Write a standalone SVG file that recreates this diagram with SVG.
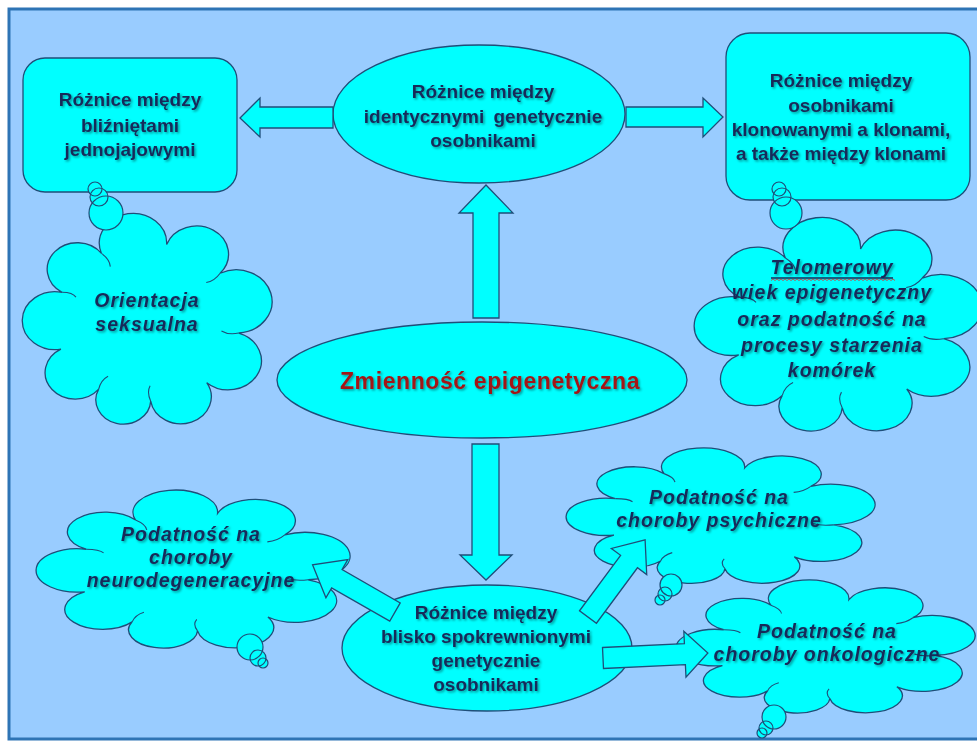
<svg xmlns="http://www.w3.org/2000/svg" xmlns:xlink="http://www.w3.org/1999/xlink" width="977" height="743" viewBox="0 0 977 743">
<style>
.sh{fill:#00FFFF;stroke:#1F4E79;stroke-width:1.3}
.cl{fill:#00FFFF;stroke:#1F4E79;stroke-width:1.3;vector-effect:non-scaling-stroke}
.cu{fill:none;stroke:#1F4E79;stroke-width:1.1;vector-effect:non-scaling-stroke}
.bo{stroke:#1F4E79;stroke-width:1.2;fill:none}
.bf{fill:#00FFFF}
.t{font-family:"Liberation Sans",Arial,sans-serif;font-weight:bold;font-size:19px;fill:#172B5A;text-anchor:middle;filter:url(#ts)}
.it{font-style:italic;font-size:19.5px;letter-spacing:1px}
.red{fill:#A31919;font-size:23px;letter-spacing:0.6px}
.ar{fill:#00FFFF;stroke:#1F4E79;stroke-width:1.3;stroke-linejoin:miter}
</style>
<defs>
<filter id="ts" x="-10%" y="-30%" width="120%" height="160%">
<feDropShadow dx="1.5" dy="1.5" stdDeviation="0.8" flood-color="#000" flood-opacity="0.4"/>
</filter>
<g id="cloud">
<path class="cl" d="M15.23,62.31 A13.16,13.16 0 1 1 15.69,36.51 A12.1,12.1 0 1 1 31.5,18.82 A13.52,13.52 0 1 1 57.69,14.79 A12.81,12.81 0 1 1 79.16,27.83 A14.38,14.38 0 1 1 86.64,55.01 A13.25,13.25 0 1 1 73.78,77.58 A12.24,12.24 0 1 1 51.29,85.98 A11.02,11.02 0 1 1 30.39,80.53 A12.09,12.09 0 1 1 15.23,62.31 Z"/>
<path class="cu" d="M15.69,36.51 Q19.96,36.57 21.27,38.7 M31.5,18.82 Q34.83,21.49 35.07,24.84 M79.16,27.83 Q76.89,31.44 73.59,32.07 M86.64,55.01 Q82.48,55.96 79.7,54.06 M51.29,85.98 Q49.65,82.03 51.04,78.99 M30.39,80.53 Q31.29,76.36 34.17,74.65"/>
</g>
</defs>
<rect x="0" y="0" width="977" height="743" fill="#FFFFFF"/>
<rect x="9" y="9" width="990" height="730" fill="#99CCFF" stroke="#2E74B5" stroke-width="3"/>

<g id="node-blizneta">
<rect class="sh" x="23" y="58" width="214" height="134" rx="22"/>
<text class="t" x="130" y="106">Różnice między</text>
<text class="t" x="130" y="132">bliźniętami</text>
<text class="t" x="130" y="156">jednojajowymi</text>
</g>

<g id="node-identyczne">
<ellipse class="sh" cx="479" cy="114" rx="146" ry="69"/>
<text class="t" x="483" y="98">Różnice między</text>
<text class="t" x="483" y="123" word-spacing="4">identycznymi genetycznie</text>
<text class="t" x="483" y="147">osobnikami</text>
</g>

<g id="node-klony">
<rect class="sh" x="726" y="33" width="244" height="167" rx="24"/>
<text class="t" x="841" y="87">Różnice między</text>
<text class="t" x="841" y="112">osobnikami</text>
<text class="t" x="841" y="136">klonowanymi a klonami,</text>
<text class="t" x="841" y="160">a także między klonami</text>
</g>

<g id="cloud-orientacja">
<use href="#cloud" transform="translate(23,212) scale(2.49,2.20)"/>
<g class="bf"><circle cx="106" cy="213" r="17"/><circle cx="99" cy="197" r="9"/><circle cx="95" cy="189" r="7"/></g>
<g class="bo"><circle cx="106" cy="213" r="17"/><circle cx="99" cy="197" r="9"/><circle cx="95" cy="189" r="7"/></g>
<text class="t it" x="147" y="307">Orientacja</text>
<text class="t it" x="147" y="331">seksualna</text>
</g>

<g id="cloud-telomerowy">
<use href="#cloud" transform="translate(695,216) scale(2.87,2.23)"/>
<g class="bf"><circle cx="786" cy="213" r="16"/><circle cx="782" cy="197" r="9"/><circle cx="779" cy="189" r="7"/></g>
<g class="bo"><circle cx="786" cy="213" r="16"/><circle cx="782" cy="197" r="9"/><circle cx="779" cy="189" r="7"/></g>
<text class="t it" x="832" y="274">Telomerowy</text>
<line x1="771" y1="278" x2="893" y2="278" stroke="#172B5A" stroke-width="1.5"/>
<path d="M771,280.5 l2,-1.5 l2,1.5 l2,-1.5 l2,1.5 l2,-1.5 l2,1.5 l2,-1.5 l2,1.5 l2,-1.5 l2,1.5 l2,-1.5 l2,1.5 l2,-1.5 l2,1.5 l2,-1.5 l2,1.5 l2,-1.5 l2,1.5 l2,-1.5 l2,1.5 l2,-1.5 l2,1.5 l2,-1.5 l2,1.5 l2,-1.5 l2,1.5 l2,-1.5 l2,1.5 l2,-1.5 l2,1.5 l2,-1.5 l2,1.5 l2,-1.5 l2,1.5 l2,-1.5 l2,1.5 l2,-1.5 l2,1.5 l2,-1.5 l2,1.5 l2,-1.5 l2,1.5 l2,-1.5 l2,1.5 l2,-1.5 l2,1.5 l2,-1.5 l2,1.5 l2,-1.5 l2,1.5 l2,-1.5 l2,1.5 l2,-1.5 l2,1.5 l2,-1.5 l2,1.5 l2,-1.5 l2,1.5 l2,-1.5 l2,1.5 l2,-1.5 l2,1.5" fill="none" stroke="#E03030" stroke-width="0.8"/>
<text class="t it" x="832" y="299">wiek epigenetyczny</text>
<text class="t it" x="832" y="326">oraz podatność na</text>
<text class="t it" x="832" y="352">procesy starzenia</text>
<text class="t it" x="832" y="377">komórek</text>
</g>

<g id="cloud-neuro">
<use href="#cloud" transform="translate(37,489) scale(3.13,1.65)"/>
<g class="bf"><circle cx="250" cy="647" r="13"/><circle cx="258" cy="658" r="8"/><circle cx="263" cy="663" r="5"/></g>
<g class="bo"><circle cx="250" cy="647" r="13"/><circle cx="258" cy="658" r="8"/><circle cx="263" cy="663" r="5"/></g>
<text class="t it" x="191" y="541">Podatność na</text>
<text class="t it" x="191" y="564">choroby</text>
<text class="t it" x="191" y="587">neurodegeneracyjne</text>
</g>

<g id="cloud-psychiczne">
<use href="#cloud" transform="translate(567,447) scale(3.08,1.415)"/>
<g class="bf"><circle cx="671" cy="585" r="11"/><circle cx="665" cy="594" r="7"/><circle cx="660" cy="600" r="5"/></g>
<g class="bo"><circle cx="671" cy="585" r="11"/><circle cx="665" cy="594" r="7"/><circle cx="660" cy="600" r="5"/></g>
<text class="t it" x="719" y="504">Podatność na</text>
<text class="t it" x="719" y="527">choroby psychiczne</text>
</g>

<g id="cloud-onkologiczne">
<use href="#cloud" transform="translate(677,579) scale(2.98,1.39)"/>
<g class="bf"><circle cx="774" cy="717" r="12"/><circle cx="766" cy="728" r="7"/><circle cx="762" cy="733" r="5"/></g>
<g class="bo"><circle cx="774" cy="717" r="12"/><circle cx="766" cy="728" r="7"/><circle cx="762" cy="733" r="5"/></g>
<text class="t it" x="827" y="638">Podatność na</text>
<text class="t it" x="827" y="661">choroby onkologiczne</text>
</g>

<g id="node-zmiennosc">
<ellipse class="sh" cx="482" cy="380" rx="205" ry="58"/>
<text class="t red" x="490" y="389">Zmienność epigenetyczna</text>
</g>

<g id="node-spokrewnione">
<ellipse class="sh" cx="487" cy="648" rx="145" ry="63"/>
<text class="t" x="486" y="619">Różnice między</text>
<text class="t" x="486" y="643">blisko spokrewnionymi</text>
<text class="t" x="486" y="667">genetycznie</text>
<text class="t" x="486" y="691">osobnikami</text>
</g>

<g id="connectors">
<polygon class="ar" points="333,107 260,107 260,98 240,118 260,137 260,128 333,128"/>
<polygon class="ar" points="626,107 703,107 703,98 723,117 703,137 703,127 626,127"/>
<polygon class="ar" points="473,318 473,213 459,213 486,185 513,213 499,213 499,318"/>
<polygon class="ar" points="472,444 499,444 499,555 512,555 486,580 460,555 472,555"/>
<polygon class="ar" transform="translate(395,612) rotate(209.8)" points="0,-10.5 67,-10.5 67,-22 95,0 67,22 67,10.5 0,10.5"/>
<polygon class="ar" transform="translate(588,617) rotate(-53.5)" points="0,-10.5 69,-10.5 69,-22 96,0 69,22 69,10.5 0,10.5"/>
<polygon class="ar" transform="translate(603,658) rotate(-2.7)" points="0,-10.5 82,-10.5 82,-23 105,0 82,23 82,10.5 0,10.5"/>
</g>
</svg>
